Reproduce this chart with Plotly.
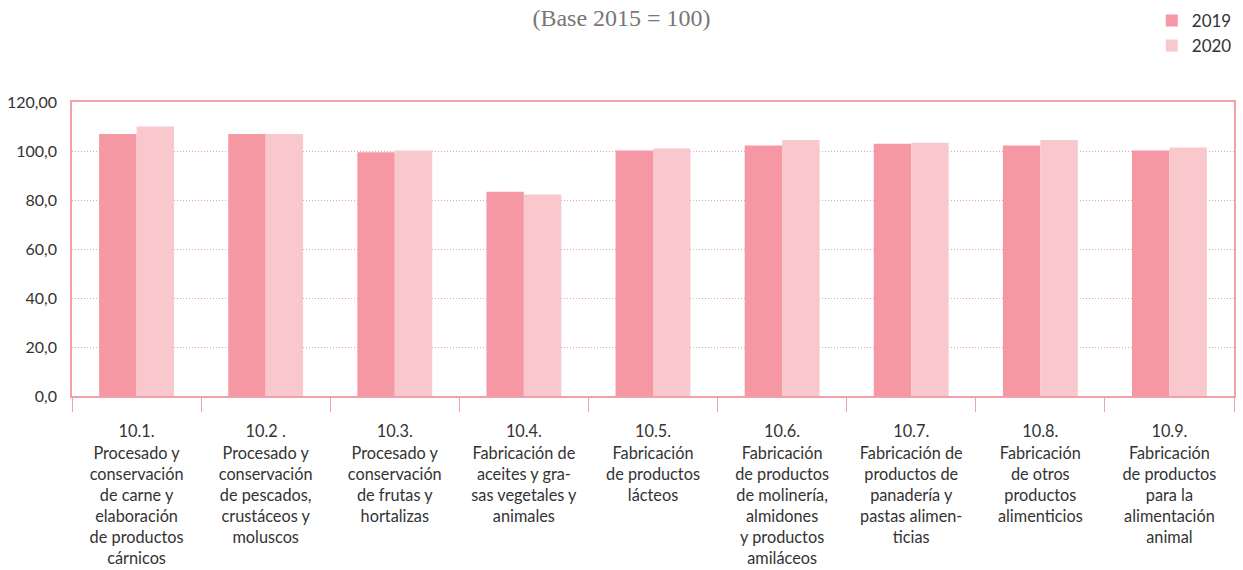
import plotly.graph_objects as go

categories = [
    "10.1.<br>Procesado y<br>conservación<br>de carne y<br>elaboración<br>de productos<br>cárnicos",
    "10.2 .<br>Procesado y<br>conservación<br>de pescados,<br>crustáceos y<br>moluscos",
    "10.3.<br>Procesado y<br>conservación<br>de frutas y<br>hortalizas",
    "10.4.<br>Fabricación de<br>aceites y gra-<br>sas vegetales y<br>animales",
    "10.5.<br>Fabricación<br>de productos<br>lácteos",
    "10.6.<br>Fabricación<br>de productos<br>de molinería,<br>almidones<br>y productos<br>amiláceos",
    "10.7.<br>Fabricación de<br>productos de<br>panadería y<br>pastas alimen-<br>ticias",
    "10.8.<br>Fabricación<br>de otros<br>productos<br>alimenticios",
    "10.9.<br>Fabricación<br>de productos<br>para la<br>alimentación<br>animal",
]
values_2019 = [106.9, 106.9, 99.5, 83.4, 100.2, 102.2, 103.0, 102.2, 100.2]
values_2020 = [110.0, 106.9, 100.2, 82.2, 101.0, 104.5, 103.4, 104.5, 101.4]
y_tick_vals = [0, 20, 40, 60, 80, 100, 120]
y_tick_text = ["0,0", "20,0", "40,0", "60,0", "80,0", "100,0", "120,00"]

PINK = "#F4A0AA"
fig = go.Figure()
fig.add_trace(go.Bar(name="2019", x=categories, y=values_2019, marker_color="#F598A4",
                     marker_line_width=0))
fig.add_trace(go.Bar(name="2020", x=categories, y=values_2020, marker_color="#F9C8CC",
                     marker_line_width=0))

fig.update_layout(
    width=1243, height=570,
    margin=dict(l=72, r=9, t=102, b=174, autoexpand=False),
    paper_bgcolor="white", plot_bgcolor="white",
    barmode="group", bargap=0.42, bargroupgap=0,
    font=dict(family="Lato", size=16, color="#333333"),
    title=dict(text="(Base 2015 = 100)", x=0.5, xanchor="center", y=0.970, yanchor="middle",
               xref="container", yref="container",
               font=dict(family="Liberation Serif", size=24, color="#777777")),
    legend=dict(xref="container", yref="container", x=0.995, xanchor="right",
                y=0.995, yanchor="top", font=dict(size=17, color="#333333"),
                itemwidth=30, tracegroupgap=4, bgcolor="rgba(0,0,0,0)"),
    showlegend=True,
)
fig.update_xaxes(
    showline=True, linecolor=PINK, linewidth=1.5, mirror=True,
    ticks="outside", tickson="boundaries", ticklen=14, tickcolor=PINK, tickwidth=1,
    tickfont=dict(family="Lato", size=16.3, color="#333333"), ticklabelstandoff=20,
    showgrid=False,
)
fig.update_yaxes(
    range=[0, 120], tickvals=y_tick_vals, ticktext=y_tick_text,
    showline=True, linecolor=PINK, linewidth=1.5, mirror=True,
    showgrid=True, gridcolor=PINK, griddash="1px,2px", gridwidth=1,
    ticks="", tickfont=dict(family="Lato", size=16, color="#333333"), ticklabelstandoff=10,
    zeroline=False,
)
fig.write_html("out.html", config={"displayModeBar": False},
               post_script="document.body.style.margin='0px';")
